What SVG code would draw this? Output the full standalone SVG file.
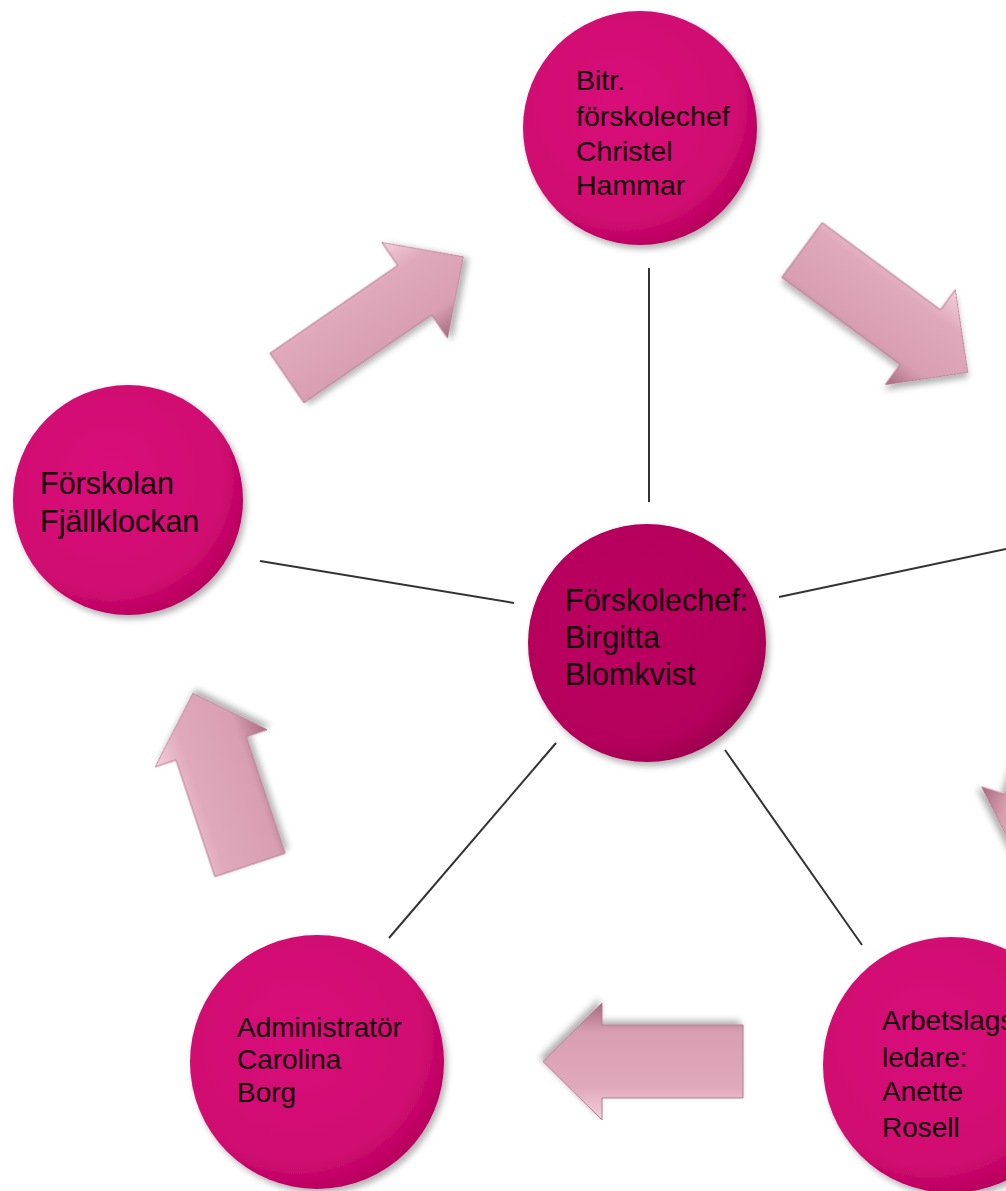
<svg xmlns="http://www.w3.org/2000/svg" width="1006" height="1191" viewBox="0 0 1006 1191">
  <defs>
    <radialGradient id="gPink" cx="0.42" cy="0.4" r="0.62">
      <stop offset="0" stop-color="#d8117a"/>
      <stop offset="0.8" stop-color="#d00a70"/>
      <stop offset="1" stop-color="#b8005e"/>
    </radialGradient>
    <radialGradient id="gCenter" cx="0.42" cy="0.4" r="0.62">
      <stop offset="0" stop-color="#bc0561"/>
      <stop offset="0.85" stop-color="#b4005b"/>
      <stop offset="1" stop-color="#a00050"/>
    </radialGradient>
    <linearGradient id="gArrow" x1="0" y1="0" x2="0" y2="1">
      <stop offset="0" stop-color="#f3cfdc"/>
      <stop offset="0.28" stop-color="#e0a9bb"/>
      <stop offset="0.75" stop-color="#d89fb2"/>
      <stop offset="1" stop-color="#a86a80"/>
    </linearGradient>
    <filter id="shadow" x="-20%" y="-20%" width="140%" height="140%">
      <feDropShadow dx="3" dy="4" stdDeviation="3" flood-color="#000" flood-opacity="0.3"/>
    </filter>
  </defs>
  <style>
    .node circle { fill: url(#gPink); filter: url(#shadow); }
    .node.center circle { fill: url(#gCenter); }
    .node text { font-family: "Liberation Sans", Arial, sans-serif; fill: #120008; }
    .conn line { stroke: #333; stroke-width: 2; }
    .arrow { fill: url(#gArrow); stroke: #b67a90; stroke-width: 1; filter: url(#shadow); }
  </style>
  <rect width="1006" height="1191" fill="#ffffff"/>

  <g id="connectors" class="conn">
    <line x1="649" y1="268" x2="649" y2="502"/>
    <line x1="260" y1="561" x2="514" y2="603"/>
    <line x1="779" y1="597" x2="1006" y2="549"/>
    <line x1="556" y1="743" x2="389" y2="938"/>
    <line x1="725" y1="750" x2="862" y2="945"/>
  </g>

  <g id="arrows">
    <path id="arrow-left-top" class="arrow" transform="translate(287,378) rotate(-34.5)" d="M0,-30 L155,-30 L155,-58 L214,0 L155,58 L155,30 L0,30 Z"/>
    <path id="arrow-top-right" class="arrow" transform="translate(802,250) rotate(36.4)" d="M0,-34 L147,-34 L147,-59 L206,0 L147,59 L147,34 L0,34 Z"/>
    <path id="arrow-right-bottom" class="arrow" transform="translate(1081,672) rotate(108)" d="M0,-34 L140,-34 L140,-59 L199,0 L140,59 L140,34 L0,34 Z"/>
    <path id="arrow-bottom" class="arrow" transform="translate(743,1061.5) rotate(180)" d="M0,-36.5 L141,-36.5 L141,-58.5 L200,0 L141,58.5 L141,36.5 L0,36.5 Z"/>
    <path id="arrow-bottomleft-left" class="arrow" transform="translate(250,865) rotate(-108.4)" d="M0,-37 L123,-37 L123,-59 L181,0 L123,59 L123,37 L0,37 Z"/>
  </g>

  <g id="node-top" class="node">
    <circle cx="640" cy="128" r="117"/>
    <text font-size="28.5">
      <tspan x="576" y="90">Bitr.</tspan>
      <tspan x="576" y="126">förskolechef</tspan>
      <tspan x="576" y="161">Christel</tspan>
      <tspan x="576" y="195">Hammar</tspan>
    </text>
  </g>

  <g id="node-left" class="node">
    <circle cx="128" cy="500" r="115"/>
    <text font-size="30.5">
      <tspan x="40" y="494">Förskolan</tspan>
      <tspan x="40" y="532">Fjällklockan</tspan>
    </text>
  </g>

  <g id="node-center" class="node center">
    <circle cx="647" cy="643" r="119"/>
    <text font-size="30.5">
      <tspan x="565" y="611">Förskolechef:</tspan>
      <tspan x="565" y="648">Birgitta</tspan>
      <tspan x="565" y="685">Blomkvist</tspan>
    </text>
  </g>

  <g id="node-bottom-left" class="node">
    <circle cx="317" cy="1062" r="127"/>
    <text font-size="28">
      <tspan x="237" y="1037">Administratör</tspan>
      <tspan x="237" y="1069">Carolina</tspan>
      <tspan x="237" y="1102">Borg</tspan>
    </text>
  </g>

  <g id="node-bottom-right" class="node">
    <circle cx="951" cy="1065" r="128"/>
    <text font-size="28">
      <tspan x="882" y="1030">Arbetslags</tspan>
      <tspan x="882" y="1067">ledare:</tspan>
      <tspan x="882" y="1101">Anette</tspan>
      <tspan x="882" y="1137">Rosell</tspan>
    </text>
  </g>
</svg>
